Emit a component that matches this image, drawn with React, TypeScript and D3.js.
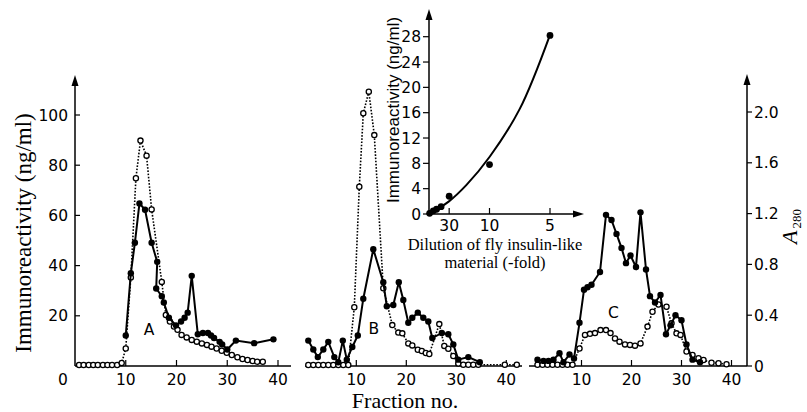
import React from 'react';
import * as d3 from 'd3';

const W = 807;
const H = 412;

// panel A: filled circles (A280), open circles (immunoreactivity, ng/ml)
const aFracFilled = [10.0, 11.0, 11.8, 12.7, 13.8, 15.1, 16.2, 16.0, 17.1, 17.5, 18.5, 19.9, 20.9, 21.6, 22.2, 23.0, 24.2, 25.2, 26.2, 26.8, 27.4, 28.5, 29.0, 30.0, 31.7, 35.3, 39.1];
const aAbs = [0.24, 0.73, 0.97, 1.28, 1.23, 0.97, 0.82, 0.61, 0.55, 0.5, 0.38, 0.32, 0.35, 0.38, 0.42, 0.71, 0.25, 0.26, 0.26, 0.24, 0.22, 0.19, 0.17, 0.13, 0.2, 0.18, 0.21];
const aFracOpen = [0.8, 1.7, 2.7, 3.6, 4.5, 5.5, 6.4, 7.3, 8.3, 9.2, 10.0, 11.0, 12.0, 12.9, 14.1, 15.1, 17.1, 17.9, 18.7, 19.5, 20.2, 21.0, 22.0, 23.0, 24.0, 25.0, 26.0, 26.9, 27.9, 28.9, 29.9, 30.9, 32.0, 33.0, 34.0, 35.0, 35.9, 37.0];
const aIr = [0.4, 0.4, 0.4, 0.4, 0.4, 0.4, 0.4, 0.4, 0.4, 1.2, 7.0, 35.3, 74.8, 89.8, 83.8, 62.4, 33.5, 20.3, 17.7, 15.7, 14.4, 12.4, 11.4, 10.4, 9.7, 9.0, 8.4, 7.7, 7.0, 6.1, 5.3, 4.4, 3.5, 2.8, 2.4, 2.0, 1.7, 1.7];

// panel B
const bFracFilled = [0.4, 1.4, 2.3, 3.4, 4.4, 5.6, 6.4, 7.3, 8.1, 9.2, 10.3, 11.4, 13.4, 15.4, 16.1, 17.4, 18.5, 19.4, 20.4, 21.2, 22.3, 23.4, 24.4, 25.2, 27.1, 28.4, 29.4, 30.4, 32.4, 34.7];
const bAbs = [0.2, 0.13, 0.07, 0.13, 0.19, 0.07, 0.03, 0.2, 0.05, 0.15, 0.24, 0.53, 0.92, 0.66, 0.47, 0.48, 0.66, 0.52, 0.34, 0.38, 0.42, 0.38, 0.35, 0.22, 0.26, 0.25, 0.17, 0.05, 0.07, 0.03];
const bFracOpen = [0.4, 1.4, 2.4, 3.4, 4.4, 5.4, 6.4, 7.4, 8.4, 9.6, 10.6, 11.4, 12.5, 13.6, 15.4, 17.2, 18.4, 19.2, 20.4, 21.2, 22.3, 23.1, 23.9, 24.6, 26.6, 27.6, 28.4, 29.4, 30.4, 31.4, 32.4, 33.4, 34.4, 39.7, 42.1];
const bIr = [0.4, 0.4, 0.4, 0.4, 0.4, 0.4, 0.4, 0.4, 0.4, 23.4, 71.4, 100.7, 109.3, 92.0, 31.0, 16.3, 13.3, 13.0, 9.0, 8.2, 6.5, 6.0, 5.2, 4.8, 16.7, 8.0, 6.9, 4.0, 1.0, 0.5, 0.5, 0.5, 0.5, 0.5, 0.5];

// panel C
const cFracFilled = [1.2, 2.4, 3.4, 4.4, 5.6, 6.4, 7.6, 8.5, 9.6, 10.5, 11.2, 12.0, 13.7, 14.9, 16.0, 17.0, 18.0, 18.9, 19.8, 20.9, 21.8, 22.9, 23.7, 24.7, 25.8, 26.9, 27.8, 28.8, 30.0, 31.0, 32.2, 33.7];
const cAbs = [0.05, 0.04, 0.04, 0.05, 0.1, 0.03, 0.09, 0.06, 0.34, 0.6, 0.62, 0.64, 0.74, 1.19, 1.15, 1.04, 0.93, 0.81, 0.87, 0.78, 1.21, 0.76, 0.55, 0.5, 0.56, 0.25, 0.32, 0.4, 0.36, 0.17, 0.05, 0.03];
const cFracOpen = [1.2, 2.2, 3.2, 4.2, 5.2, 6.2, 7.2, 8.2, 9.6, 10.7, 11.7, 12.7, 13.8, 14.9, 15.8, 16.7, 17.6, 18.7, 19.7, 20.7, 21.8, 23.2, 24.2, 25.4, 27.0, 28.0, 29.0, 29.8, 31.0, 32.2, 33.4, 34.4, 36.0, 37.4, 39.0];
const cIr = [0.5, 0.5, 0.5, 0.5, 0.5, 0.5, 0.5, 0.5, 7.0, 12.4, 12.8, 13.1, 14.3, 14.3, 13.1, 11.0, 9.7, 8.6, 8.4, 8.1, 9.0, 15.7, 21.6, 24.5, 23.6, 17.0, 13.0, 12.4, 5.8, 4.4, 3.1, 2.4, 1.3, 1.1, 0.7];

// inset: dilution (-fold) vs immunoreactivity
const insetDilution = [1000, 140, 80, 50, 30, 10, 5];
const insetIr = [0.1, 0.5, 0.75, 1.15, 2.8, 7.8, 28.2];
const curveConc = [0, 0.033, 0.062, 0.1, 0.15, 0.2];
const curveIr = [0, 2.0, 4.6, 9.0, 16.6, 28.3];
const insetXTicks = [30, 10, 5];
const insetYTicks = [0, 4, 8, 12, 16, 20, 24, 28];

const irTicks = [20, 40, 60, 80, 100];
const absTicks = [0, 0.4, 0.8, 1.2, 1.6, 2.0];
const fracTicks = [10, 20, 30, 40];

const SANS = "'DejaVu Sans', sans-serif";
const SERIF = "'Liberation Serif', 'Times New Roman', serif";

const yIr = d3.scaleLinear().domain([0, 100]).range([366, 115]);
const yAbs = d3.scaleLinear().domain([0, 2.0]).range([366, 112]);
const insX = d3.scaleLinear().domain([0, 0.2]).range([429, 550]);
const insY = d3.scaleLinear().domain([0, 28]).range([214, 36.7]);

const zip = (a: number[], b: number[]) => a.map((v, i) => [v, b[i]] as [number, number]);

const panels = [
  { name: 'A', x: d3.scaleLinear().domain([0, 40]).range([75, 278]), axis: [75, 291], filled: zip(aFracFilled, aAbs), open: zip(aFracOpen, aIr), label: [14.6, 14.6] },
  { name: 'B', x: d3.scaleLinear().domain([0, 40]).range([306.3, 506.3]), axis: [305, 522], filled: zip(bFracFilled, bAbs), open: zip(bFracOpen, bIr), label: [13.5, 15] },
  { name: 'C', x: d3.scaleLinear().domain([0, 40]).range([531.5, 731.5]), axis: [529, 747], filled: zip(cFracFilled, cAbs), open: zip(cFracOpen, cIr), label: [16.4, 21.2] },
];

const Panel = ({ p }: { p: typeof panels[number] }) => {
  const openLine = d3.line<[number, number]>().x(d => p.x(d[0])).y(d => yIr(d[1]));
  const filledLine = d3.line<[number, number]>().x(d => p.x(d[0])).y(d => yAbs(d[1]));
  return (
    <g>
      <line x1={p.axis[0]} x2={p.axis[1]} y1={366} y2={366} stroke="#000" strokeWidth={1.5} />
      {fracTicks.map(t => (
        <g key={t}>
          <line x1={p.x(t)} x2={p.x(t)} y1={366} y2={360} stroke="#000" strokeWidth={1.2} />
          <text x={p.x(t)} y={385} textAnchor="middle" fontFamily={SANS} fontSize={15.5}>{t}</text>
        </g>
      ))}
      <path d={openLine(p.open) || ''} fill="none" stroke="#000" strokeWidth={1.6} strokeDasharray="1.6 1.6" />
      {p.open.map((d, i) => (
        <circle key={'o' + i} cx={p.x(d[0])} cy={yIr(d[1])} r={2.6} fill="#fff" stroke="#000" strokeWidth={1.3} />
      ))}
      <path d={filledLine(p.filled) || ''} fill="none" stroke="#000" strokeWidth={2} />
      {p.filled.map((d, i) => (
        <circle key={'f' + i} cx={p.x(d[0])} cy={yAbs(d[1])} r={3.2} fill="#000" />
      ))}
      <text x={p.x(p.label[0])} y={yIr(p.label[1])} dy="0.36em" textAnchor="middle" fontFamily={SANS} fontSize={15.5}>{p.name}</text>
    </g>
  );
};

export default function App() {
  const curveLine = d3.line<[number, number]>().x(d => insX(d[0])).y(d => insY(d[1])).curve(d3.curveCatmullRom);
  const insetPts = zip(insetDilution.map(d => 1 / d), insetIr);
  return (
    <svg width={W} height={H} style={{ position: 'absolute', left: 0, top: 0, background: '#fff' }}>
      <rect width={W} height={H} fill="#fff" />

      {/* left axis */}
      <line x1={75} x2={75} y1={366} y2={84} stroke="#000" strokeWidth={1.5} />
      <path d="M75,75 L71.5,86 L78.5,86 Z" fill="#000" />
      {irTicks.map(t => (
        <g key={t}>
          <line x1={75} x2={80} y1={yIr(t)} y2={yIr(t)} stroke="#000" strokeWidth={1.2} />
          <text x={68} y={yIr(t)} dy="0.36em" textAnchor="end" fontFamily={SANS} fontSize={15.5}>{t}</text>
        </g>
      ))}
      <text x={63} y={385} textAnchor="middle" fontFamily={SANS} fontSize={15.5}>0</text>
      <text transform="translate(31,233) rotate(-90)" textAnchor="middle" fontFamily={SERIF} fontSize={23}>Immunoreactivity (ng/ml)</text>

      {/* right axis */}
      <line x1={747} x2={747} y1={366} y2={83} stroke="#000" strokeWidth={1.5} />
      <path d="M747,74 L743.5,85 L750.5,85 Z" fill="#000" />
      {absTicks.map(t => (
        <g key={t}>
          <line x1={747} x2={752} y1={yAbs(t)} y2={yAbs(t)} stroke="#000" strokeWidth={1.2} />
          <text x={754} y={yAbs(t)} dy="0.36em" textAnchor="start" fontFamily={SANS} fontSize={15.5}>{t === 0 ? '0' : t.toFixed(1)}</text>
        </g>
      ))}
      <text transform="translate(797,244) rotate(-90)" fontFamily={SERIF} fontSize={22}>
        <tspan fontStyle="italic">A</tspan>
        <tspan fontSize={13} dy={4} dx={2}>280</tspan>
      </text>

      {panels.map(p => <Panel key={p.name} p={p} />)}

      <text x={405} y={408} textAnchor="middle" fontFamily={SERIF} fontSize={22}>Fraction no.</text>

      {/* inset */}
      <line x1={429} x2={429} y1={214} y2={18} stroke="#000" strokeWidth={1.5} />
      <path d="M429,9 L425.5,20 L432.5,20 Z" fill="#000" />
      <line x1={429} x2={574} y1={214} y2={214} stroke="#000" strokeWidth={1.5} />
      <path d="M584,214 L573,210.5 L573,217.5 Z" fill="#000" />
      {insetYTicks.map(t => (
        <g key={t}>
          <line x1={423} x2={429} y1={insY(t)} y2={insY(t)} stroke="#000" strokeWidth={1.2} />
          <text x={421} y={insY(t)} dy="0.36em" textAnchor="end" fontFamily={SANS} fontSize={15.5}>{t}</text>
        </g>
      ))}
      {insetXTicks.map(t => (
        <g key={t}>
          <line x1={insX(1 / t)} x2={insX(1 / t)} y1={214} y2={208} stroke="#000" strokeWidth={1.2} />
          <text x={insX(1 / t)} y={231} textAnchor="middle" fontFamily={SANS} fontSize={15.5}>{t}</text>
        </g>
      ))}
      <path d={curveLine(zip(curveConc, curveIr)) || ''} fill="none" stroke="#000" strokeWidth={2} />
      {insetPts.map((d, i) => (
        <circle key={i} cx={insX(d[0])} cy={insY(d[1])} r={3.4} fill="#000" />
      ))}
      <text transform="translate(399,110) rotate(-90)" textAnchor="middle" fontFamily="'Liberation Sans', sans-serif" fontSize={17}>Immunoreactivity (ng/ml)</text>
      <text x={495} y={250} textAnchor="middle" fontFamily={SERIF} fontSize={16.5}>Dilution of fly insulin-like</text>
      <text x={495} y={268} textAnchor="middle" fontFamily={SERIF} fontSize={16.5}>material (-fold)</text>
    </svg>
  );
}
